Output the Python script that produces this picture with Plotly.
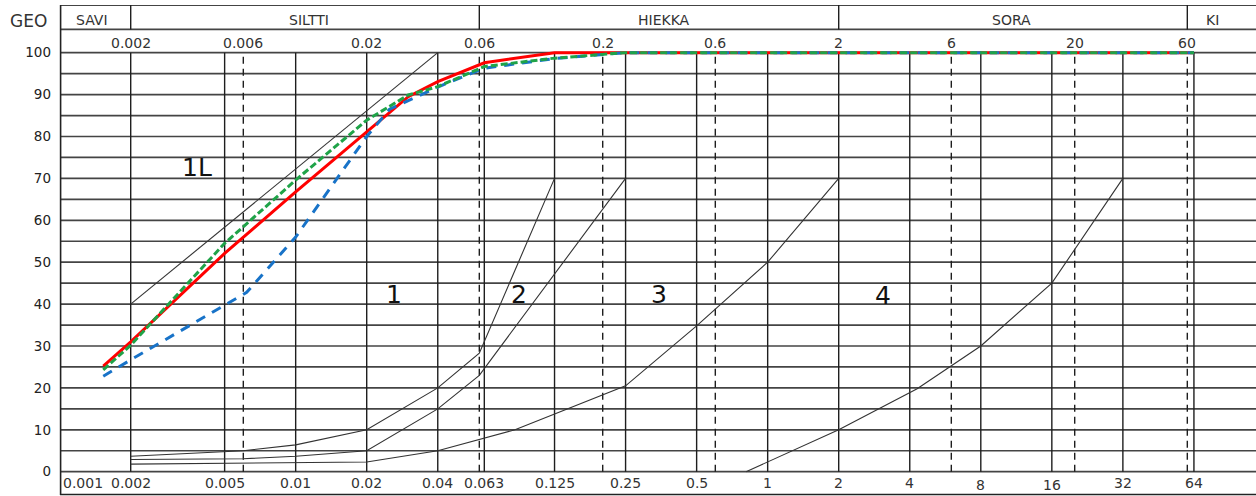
import math
import plotly.graph_objects as go

# Grain size distribution curves: grain diameter (mm) vs. passing (%)
red_d = [0.00153, 0.002, 0.005, 0.01, 0.02, 0.03, 0.04, 0.063, 0.125, 64]
red_p = [25.2, 31.0, 52.1, 66.8, 81.1, 89.5, 93.1, 97.6, 100, 100]

green_d = [0.00153, 0.002, 0.005, 0.01, 0.02, 0.03, 0.04, 0.063, 0.125, 0.25, 64]
green_p = [24.3, 30.2, 54.5, 69.6, 83.9, 89.9, 91.9, 96.7, 98.7, 100, 100]

blue_d = [0.00153, 0.002, 0.0062, 0.01, 0.02, 0.025, 0.04, 0.063, 0.125, 0.25, 64]
blue_p = [22.8, 26.7, 42.8, 56.0, 80.0, 86.5, 91.8, 96.3, 98.6, 100, 100]

# Frost susceptibility zone boundaries (1L, 1, 2, 3, 4)
b1L_d = [0.002, 0.04]
b1L_p = [40, 100]
b12_d = [0.002, 0.006, 0.01, 0.02, 0.04, 0.06, 0.125]
b12_p = [3.7, 5.0, 6.4, 10, 20, 28.3, 70]
b23_d = [0.002, 0.006, 0.01, 0.02, 0.04, 0.06, 0.25]
b23_p = [2.9, 3.1, 3.7, 5.0, 15, 23, 70]
b34_d = [0.002, 0.01, 0.02, 0.04, 0.085, 0.25, 0.5, 1, 2]
b34_p = [1.8, 2.1, 2.3, 5.0, 10, 20.5, 34.8, 50, 70]
b4_d = [0.81, 2, 4.3, 8, 16, 32]
b4_p = [0, 10, 19.8, 30, 45, 70]

zone_names = ["1L", "1", "2", "3", "4"]

# Sieve sizes (solid grid) and GEO class limits (dashed grid)
sieve_d = [0.002, 0.005, 0.01, 0.02, 0.04, 0.063, 0.125, 0.25, 0.5, 1, 2, 4, 8, 16, 32, 64]
sieve_labels = ["0.002", "0.005", "0.01", "0.02", "0.04", "0.063", "0.125", "0.25",
                "0.5", "1", "2", "4", "8", "16", "32", "64"]
geo_d = [0.006, 0.06, 0.2, 0.6, 6, 20, 60]
top_d = [0.002, 0.006, 0.02, 0.06, 0.2, 0.6, 2, 6, 20, 60]
top_labels = ["0.002", "0.006", "0.02", "0.06", "0.2", "0.6", "2", "6", "20", "60"]

# GEO soil classes and their grain-size limits
class_names = ["SAVI", "SILTTI", "HIEKKA", "SORA", "KI"]
class_limits = [0.001, 0.002, 0.06, 2, 60, 117]

y_ticks = list(range(0, 101, 10))

FONT = "DejaVu Sans"
TXT = "#333333"
VLINE = "#1e1e1e"
HLINE = "#444444"

X_MIN, X_MAX = -2.9986, 2.0692
Y_MIN, Y_MAX = -5.56, 111.38
HEAD_Y = 105.54

fig = go.Figure()

# zone boundaries
for xs, ys in [(b1L_d, b1L_p), (b12_d, b12_p), (b23_d, b23_p), (b34_d, b34_p), (b4_d, b4_p)]:
    fig.add_trace(go.Scatter(x=xs, y=ys, mode="lines", hoverinfo="skip",
                             line=dict(color="#333333", width=1.1), showlegend=False))

# sample curves
fig.add_trace(go.Scatter(x=red_d, y=red_p, mode="lines", showlegend=False,
                         line=dict(color="#ff0000", width=3)))
fig.add_trace(go.Scatter(x=blue_d, y=blue_p, mode="lines", showlegend=False,
                         line=dict(color="#1873c8", width=3, dash="10px,8px")))
fig.add_trace(go.Scatter(x=green_d, y=green_p, mode="lines", showlegend=False,
                         line=dict(color="#1fa348", width=3, dash="7px,3px")))

shapes = []
for p in range(0, 101, 5):
    shapes.append(dict(type="line", xref="paper", yref="y", x0=0, x1=1, y0=p, y1=p,
                       line=dict(color=HLINE, width=1.7), layer="below"))
for d in sieve_d:
    shapes.append(dict(type="line", xref="x", yref="y", x0=d, x1=d, y0=0, y1=100,
                       line=dict(color=VLINE, width=1.4), layer="below"))
for d in geo_d:
    shapes.append(dict(type="line", xref="x", yref="y", x0=d, x1=d, y0=0, y1=100,
                       line=dict(color=VLINE, width=1.4, dash="7px,5px"), layer="below"))
# frame and header rows
for yv in [Y_MAX - 0.05, HEAD_Y]:
    shapes.append(dict(type="line", xref="paper", yref="y", x0=0, x1=1, y0=yv, y1=yv,
                       line=dict(color=HLINE, width=1.7)))
shapes.append(dict(type="line", xref="paper", yref="paper", x0=0, x1=1, y0=0.001, y1=0.001,
                   line=dict(color="#222222", width=1.6)))
shapes.append(dict(type="line", xref="paper", yref="paper", x0=0.0005, x1=0.0005, y0=0, y1=1,
                   line=dict(color="#222222", width=1.6)))
for d in class_limits[1:-1]:
    shapes.append(dict(type="line", xref="x", yref="y", x0=d, x1=d, y0=HEAD_Y, y1=Y_MAX,
                       line=dict(color=VLINE, width=1.4)))

ann = []
# bottom sieve labels (a couple sit slightly lower on the sheet)
low_labels = {"8", "16"}
ann.append(dict(x=X_MIN + 0.001, y=-2.6, xref="x", yref="y", text="0.001", showarrow=False,
                xanchor="left", xshift=1, font=dict(family=FONT, size=14, color=TXT)))
for d, t in zip(sieve_d, sieve_labels):
    ann.append(dict(x=math.log10(d), y=-2.6, xref="x", yref="y", text=t, showarrow=False,
                    yshift=-2 if t in low_labels else 0,
                    font=dict(family=FONT, size=14, color=TXT)))
# top class-limit labels
for d, t in zip(top_d, top_labels):
    ann.append(dict(x=math.log10(d), y=102.3, xref="x", yref="y", text=t, showarrow=False,
                    font=dict(family=FONT, size=14, color=TXT)))
# class names in header
shifts = [-3, 4, 5, -2, -9]
for i, name in enumerate(class_names):
    c = (math.log10(class_limits[i]) + math.log10(class_limits[i + 1])) / 2
    ann.append(dict(x=c, y=107.8, xref="x", yref="y", text=name, showarrow=False,
                    xshift=shifts[i], font=dict(family=FONT, size=14, color=TXT)))
ann.append(dict(x=-52 / 1196, y=107.6, xref="paper", yref="y", text="GEO", showarrow=False,
                xanchor="left", font=dict(family=FONT, size=17, color=TXT)))
# zone labels
zone_pos = [(0.0038, 72.5), (0.026, 42.4), (0.088, 42.3), (0.345, 42.3), (3.07, 42.1)]
for name, (zx, zy) in zip(zone_names, zone_pos):
    ann.append(dict(x=math.log10(zx), y=zy, xref="x", yref="y", text=name, showarrow=False,
                    font=dict(family=FONT, size=25, color="#111111")))

fig.update_layout(
    width=1256, height=496,
    margin=dict(l=60, r=0, t=5, b=1),
    paper_bgcolor="white", plot_bgcolor="white",
    shapes=shapes, annotations=ann,
    xaxis=dict(type="log", range=[X_MIN, X_MAX], showgrid=False, zeroline=False,
               showline=False, showticklabels=False, ticks=""),
    yaxis=dict(range=[Y_MIN, Y_MAX], showgrid=False, zeroline=False, showline=False,
               tickvals=y_ticks, ticktext=[str(v) for v in y_ticks], ticks="",
               ticklabelstandoff=8, tickfont=dict(family=FONT, size=13.5, color="#222222")),
)

fig.write_html("out.html")
